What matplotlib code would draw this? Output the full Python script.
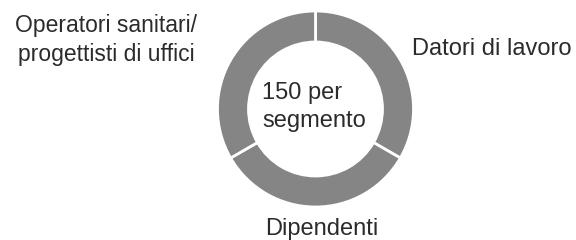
import matplotlib.pyplot as plt

# Dati: tre segmenti uguali
segmenti = ['Datori di lavoro', 'Dipendenti', 'Operatori sanitari/\nprogettisti di uffici']
valori = [150, 150, 150]
testo_centro = '150 per\nsegmento'

plt.rcParams['font.family'] = ['Liberation Sans', 'DejaVu Sans']

fig = plt.figure(figsize=(5.76, 2.4), dpi=100)
ax = fig.add_axes([0, 0, 1, 1])

# Coordinate in pixel
cx, cy, r = 315.5, 131, 98
ax.pie(valori, startangle=90, counterclock=False, colors=['#858585'] * 3,
       center=(cx, cy), radius=r,
       wedgeprops=dict(width=31, edgecolor='white', linewidth=2))

ax.set_xlim(0, 576)
ax.set_ylim(0, 240)
ax.set_aspect('equal')
ax.axis('off')

fs = 17
col = '#2b2b2b'
ax.text(262, 133, testo_centro, ha='left', va='center', fontsize=fs, color=col,
        linespacing=1.36, multialignment='left')
ax.text(412, 185, segmenti[0], ha='left', va='baseline', fontsize=fs, color=col)
ax.text(cx + 6, 5, segmenti[1], ha='center', va='baseline', fontsize=fs, color=col)
ax.text(106, 200, segmenti[2], ha='center', va='center', fontsize=16.5, color=col,
        linespacing=1.28)

fig.savefig('out.png', dpi=100)
